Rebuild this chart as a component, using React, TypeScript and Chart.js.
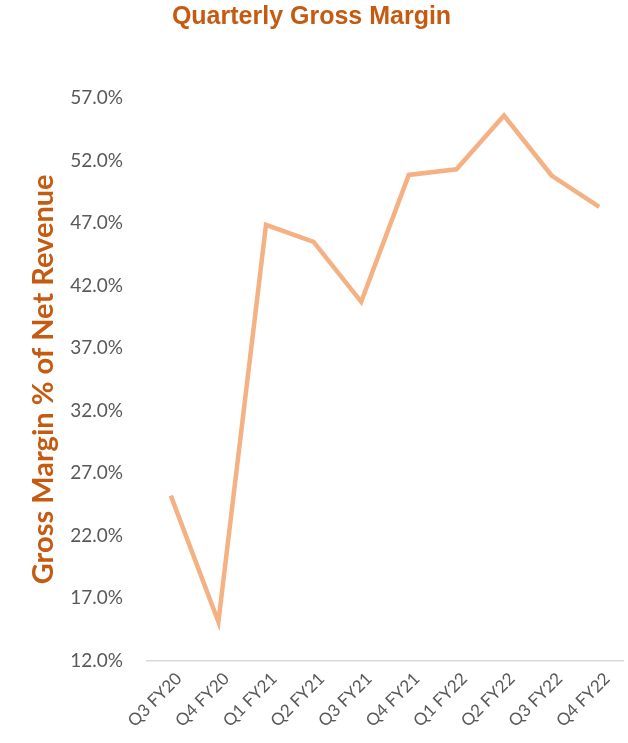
import React, { useEffect, useRef } from "react";
import { Chart, registerables } from "chart.js";

Chart.register(...registerables);

const quarters = [
  "Q3 FY20",
  "Q4 FY20",
  "Q1 FY21",
  "Q2 FY21",
  "Q3 FY21",
  "Q4 FY21",
  "Q1 FY22",
  "Q2 FY22",
  "Q3 FY22",
  "Q4 FY22",
];
const grossMargin = [25.2, 15.1, 46.85, 45.5, 40.7, 50.85, 51.3, 55.6, 50.8, 48.3];
const yMin = 12;
const yMax = 57;
const yStep = 5;

export default function App() {
  const ref = useRef<HTMLCanvasElement | null>(null);

  useEffect(() => {
    document.body.style.margin = "0";
    const canvas = ref.current;
    if (!canvas) return;
    const chart = new Chart(canvas, {
      type: "line",
      data: {
        labels: quarters,
        datasets: [
          {
            label: "Gross Margin",
            data: grossMargin,
            borderColor: "#F4B183",
            borderWidth: 4.5,
            pointRadius: 0,
            tension: 0,
            fill: false,
          },
        ],
      },
      options: {
        animation: false,
        responsive: false,
        maintainAspectRatio: false,
        layout: { padding: { left: 0, right: 5, top: 0, bottom: 4 } },
        plugins: {
          legend: { display: false },
          tooltip: { enabled: false },
          title: {
            display: true,
            text: "Quarterly Gross Margin",
            color: "#C55A11",
            font: { family: "'Liberation Sans', Arial, sans-serif", size: 25, weight: "bold" },
            padding: { top: 2, bottom: 66 },
          },
        },
        scales: {
          x: {
            offset: true,
            grid: { display: false, drawTicks: false },
            border: { display: true, color: "#D9D9D9", width: 1.5 },
            ticks: {
              color: "#595959",
              font: { family: "Lato, 'Open Sans', sans-serif", size: 17 },
              minRotation: 45,
              maxRotation: 45,
              autoSkip: false,
              padding: 8,
              labelOffset: 8,
            },
          },
          y: {
            min: yMin,
            max: yMax,
            grid: { display: false, drawTicks: false },
            border: { display: false },
            ticks: {
              stepSize: yStep,
              color: "#595959",
              font: { family: "Lato, 'Open Sans', sans-serif", size: 19 },
              padding: 24,
              callback: (v: any) => Number(v).toFixed(1) + "%",
            },
            title: {
              display: true,
              text: "Gross Margin % of Net Revenue",
              color: "#C55A11",
              font: { family: "Lato, 'Open Sans', sans-serif", size: 29, weight: "bold" },
              padding: { top: 26, bottom: 0 },
            },
            afterFit: (scale: any) => {
              scale.width = 147;
            },
          },
        },
      },
    });
    return () => chart.destroy();
  }, []);

  return (
    <div style={{ width: 628, height: 743, background: "#fff" }}>
      <canvas ref={ref} width={628} height={743} style={{ display: "block" }} />
    </div>
  );
}
